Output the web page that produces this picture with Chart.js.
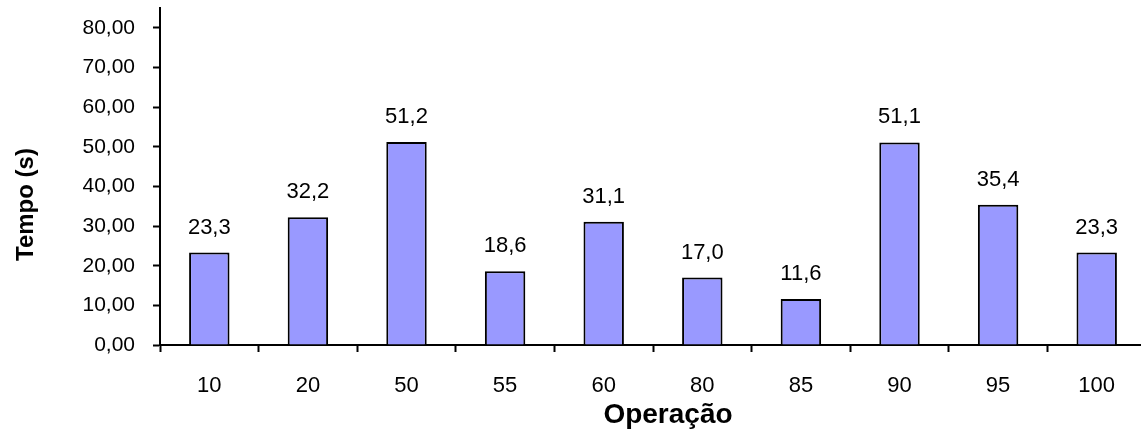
<!DOCTYPE html>
<html>
<head>
<meta charset="utf-8">
<script src="https://cdn.jsdelivr.net/npm/chart.js@4.4.1/dist/chart.umd.min.js"></script>
<style>
    html, body { margin: 0; padding: 0; background: #fff; overflow: hidden; }
    #wrap { width: 1146px; height: 434px; }
</style>
</head>
<body>
<div id="wrap"><canvas id="myChart" width="1146" height="434"></canvas></div>
<script>
const operacoes = ["10", "20", "50", "55", "60", "80", "85", "90", "95", "100"];
const tempos = [23.3, 32.2, 51.2, 18.6, 31.1, 17.0, 11.6, 51.1, 35.4, 23.3];
const yTicks = [0, 10, 20, 30, 40, 50, 60, 70, 80];

const tituloX = "Operação";
const tituloY = "Tempo (s)";

const fontFamily = "'Liberation Sans', Arial, sans-serif";

/**
 * labels above each bar ("23,3") and both axis titles
 */
const extraText = {
    id: "extraText",
    afterDatasetsDraw (chart)
    {
        const ctx = chart.ctx;
        const meta = chart.getDatasetMeta(0);
        ctx.save();
        ctx.fillStyle = "#000";

        ctx.font = `22px ${fontFamily}`;
        ctx.textAlign = "center";
        ctx.textBaseline = "middle";
        meta.data.forEach((bar, index) => {
            const txt = tempos[index].toFixed(1).replace(".", ",");
            ctx.fillText(txt, bar.x, bar.y - 25);
        });

        // x title, sits a bit right of the plot centre like the original
        const area = chart.chartArea;
        ctx.font = `bold 28px ${fontFamily}`;
        ctx.textBaseline = "alphabetic";
        ctx.fillText(tituloX, (area.left + area.right) / 2 + 15, 423);

        // y title, rotated
        ctx.font = `bold 24px ${fontFamily}`;
        ctx.textBaseline = "middle";
        ctx.translate(26, (area.top + area.bottom) / 2 + 28);
        ctx.rotate(-Math.PI / 2);
        ctx.fillText(tituloY, 0, 0);

        ctx.restore();
    }
};

const ctx = document.getElementById("myChart");

new Chart(ctx, {
    type: "bar",
    data: {
        labels: operacoes,
        datasets: [{
            data: tempos,
            backgroundColor: "#9999FF",
            borderColor: "#000",
            borderWidth: 2,
            categoryPercentage: 1,
            barPercentage: 0.41
        }]
    },
    options: {
        responsive: false,
        animation: false,
        layout: { padding: { top: 8, right: 0, left: 0, bottom: 0 } },
        plugins: {
            legend: { display: false },
            tooltip: { enabled: false }
        },
        scales: {
            x: {
                grid: { drawOnChartArea: false, drawTicks: true, tickLength: 7, tickWidth: 2, tickColor: "#000", offset: true },
                border: { display: true, color: "#000", width: 2 },
                ticks: { color: "#000", padding: 21, font: { family: fontFamily, size: 22 } },
                afterFit: (scale) => { scale.height = 89; scale.paddingLeft = 0; scale.paddingRight = 0; }
            },
            y: {
                min: 0,
                max: 85,
                afterBuildTicks: (scale) => { scale.ticks = yTicks.map(v => ({ value: v })); },
                grid: { drawOnChartArea: false, drawTicks: true, tickLength: 7, tickWidth: 2, tickColor: "#000" },
                border: { display: true, color: "#000", width: 2 },
                ticks: {
                    color: "#000",
                    padding: 18,
                    font: { family: fontFamily, size: 21 },
                    callback: (value) => Number(value).toFixed(2).replace(".", ",")
                },
                afterFit: (scale) => { scale.width = 160; scale.paddingTop = 0; scale.paddingBottom = 0; }
            }
        }
    },
    plugins: [extraText]
});
</script>
</body>
</html>
